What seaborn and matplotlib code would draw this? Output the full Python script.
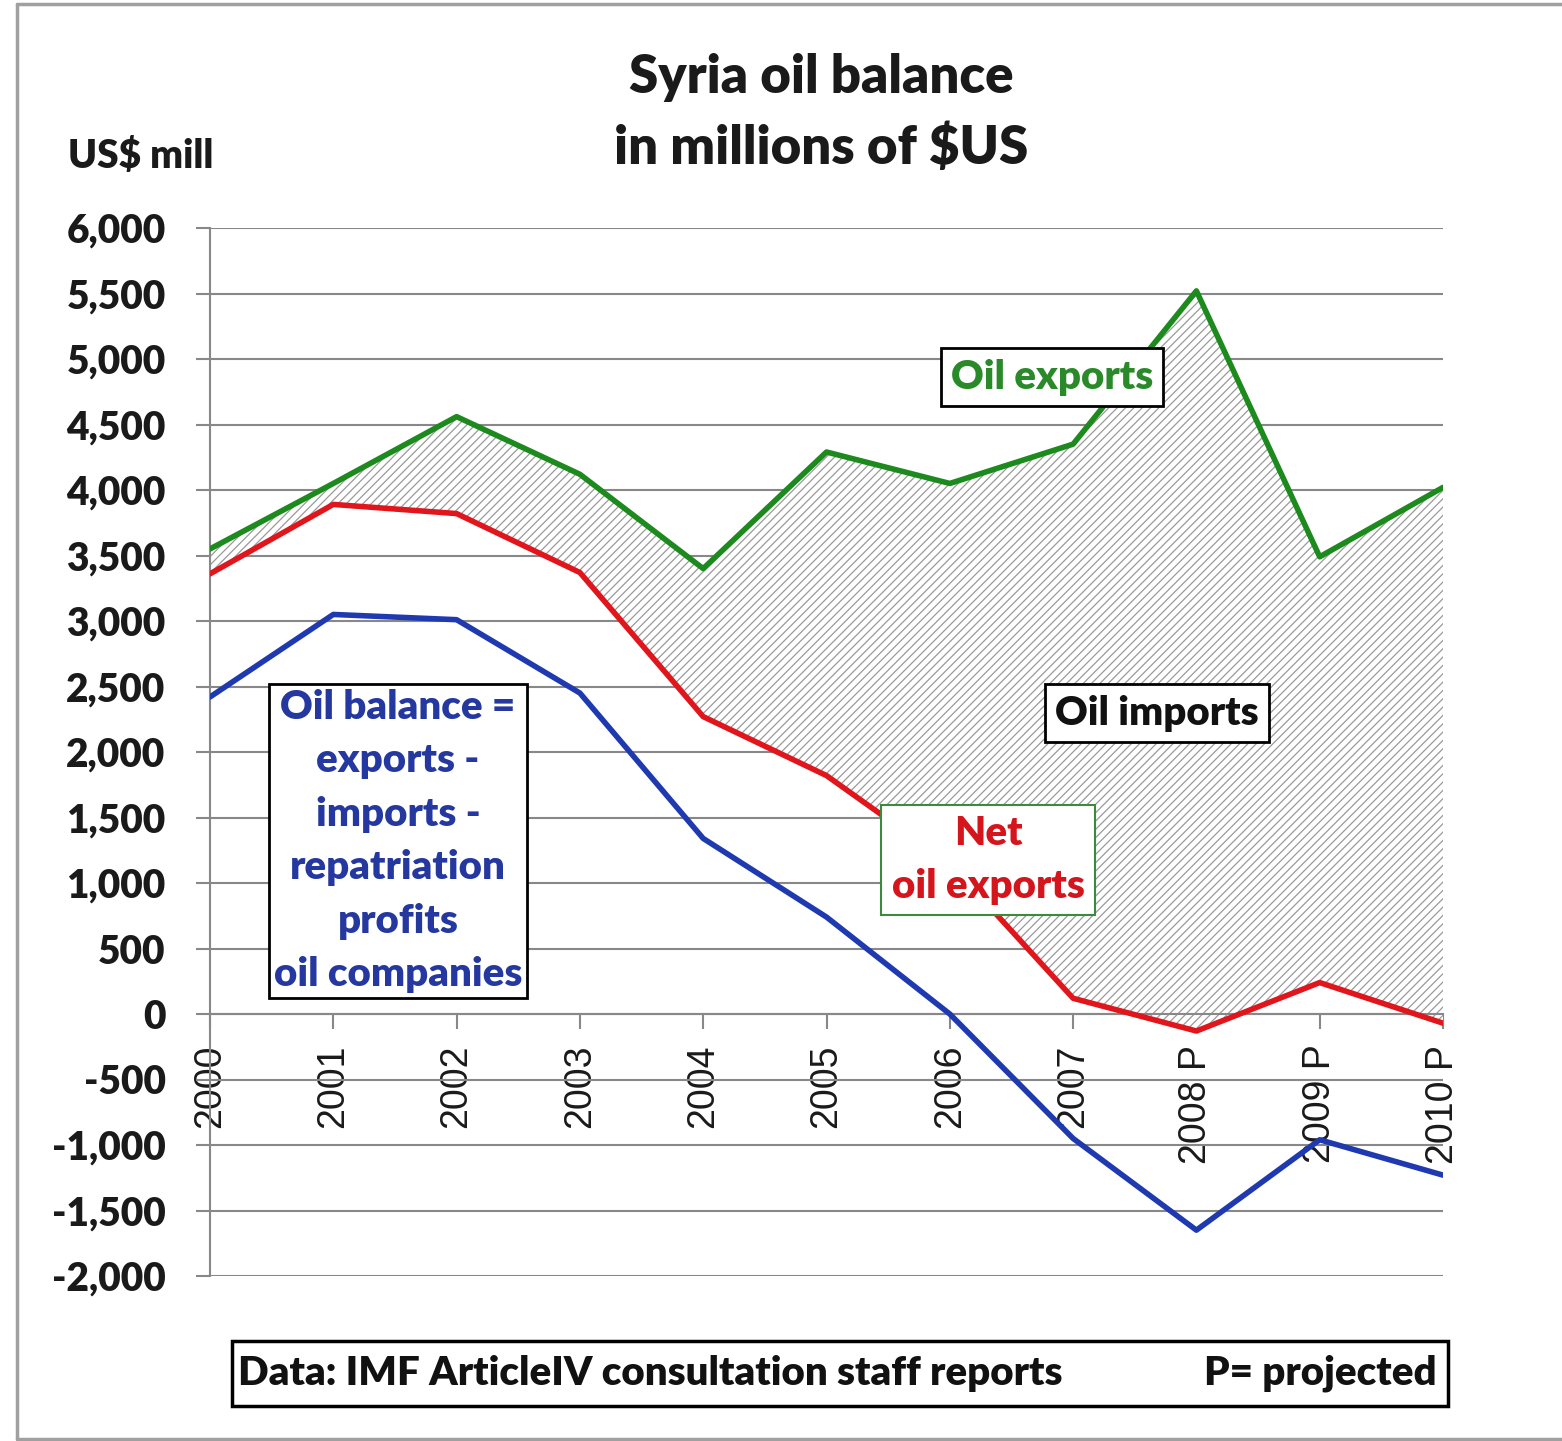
import numpy as np
import pandas as pd
import matplotlib
matplotlib.use("Agg")
import matplotlib.pyplot as plt
import seaborn as sns
from matplotlib.ticker import FuncFormatter, MultipleLocator
from matplotlib.patches import Rectangle
from matplotlib.lines import Line2D

# dados (milhoes de US$)
anos = ['2000', '2001', '2002', '2003', '2004', '2005', '2006', '2007', '2008 P', '2009 P', '2010 P']
exportacoes = [3550, 4050, 4560, 4120, 3400, 4290, 4050, 4350, 5520, 3490, 4020]
exportacoes_liq = [3360, 3890, 3820, 3370, 2270, 1820, 1150, 120, -130, 240, -70]
balanco = [2420, 3050, 3010, 2450, 1340, 740, 0, -950, -1650, -960, -1230]

W, H = 1562, 1441
PESO = 'heavy'


def fx(x):
    return x / W


def fy(y):
    return 1 - y / H


sns.set_theme(style="white")
plt.rcParams['font.family'] = ['Lato', 'DejaVu Sans']
plt.rcParams['hatch.linewidth'] = 0.9

pos = np.arange(len(anos))
df = pd.DataFrame({
    'pos': np.tile(pos, 3),
    'valor': exportacoes + exportacoes_liq + balanco,
    'serie': ['Oil exports'] * len(anos) + ['Net oil exports'] * len(anos) + ['Oil balance'] * len(anos),
})
cores = {'Oil exports': '#1c8a1c', 'Net oil exports': '#e0161c', 'Oil balance': '#1f3ab0'}

fig = plt.figure(figsize=(W / 100, H / 100), dpi=100)
ax = fig.add_axes([fx(210), fy(1276), fx(1443) - fx(210), fy(228) - fy(1276)])

# area hachurada = importacoes
ax.fill_between(pos, exportacoes, exportacoes_liq, facecolor='white', edgecolor='#9a9a9a',
                hatch='////', linewidth=0, zorder=2)

sns.lineplot(data=df, x='pos', y='valor', hue='serie', palette=cores, linewidth=4,
             legend=False, sort=False, ax=ax, zorder=3)

ax.set_xlim(0, len(anos) - 1)
ax.set_ylim(-2000, 6000)
ax.set_xlabel('')
ax.set_ylabel('')

ax.grid(axis='y', color='#888888', linewidth=1.5)
ax.set_axisbelow(True)
for s in ['top', 'right']:
    ax.spines[s].set_visible(False)
# eixo x passando pelo zero (isso reseta os ticks, entao os rotulos vem depois)
ax.spines['bottom'].set_position(('data', 0))
ax.spines['bottom'].set_color('#888888')
ax.spines['bottom'].set_linewidth(1.5)
ax.spines['left'].set_color('#888888')
ax.spines['left'].set_linewidth(1.5)

ax.yaxis.set_major_locator(MultipleLocator(500))
ax.yaxis.set_major_formatter(FuncFormatter(lambda v, p: f"{v:,.0f}"))
ax.set_xticks(pos)
ax.set_xticklabels(anos)

ax.tick_params(axis='y', which='major', left=True, length=10, width=1.5, color='#888888',
               pad=22, labelsize=28, labelcolor='#1a1a1a')
ax.tick_params(axis='x', which='major', bottom=True, length=11, width=1.5, color='#888888',
               pad=11, labelsize=27, labelrotation=90, labelcolor='#1a1a1a')
for lab in ax.get_yticklabels():
    lab.set_fontweight(PESO)
for lab in ax.get_xticklabels():
    lab.set_fontfamily('Liberation Sans')

# titulo e unidade
fig.text(fx(821), fy(113), 'Syria oil balance\nin millions of $US', ha='center', va='center',
         fontsize=38, fontweight=PESO, color='#1a1a1a', linespacing=1.55)
fig.text(fx(68), fy(157), 'US$ mill', ha='left', va='center', fontsize=28,
         fontweight=PESO, color='#1a1a1a')

# caixas de texto
caixa = dict(boxstyle='square,pad=0.25', facecolor='white', edgecolor='black', linewidth=2)
fig.text(fx(1052), fy(377), 'Oil exports', ha='center', va='center', fontsize=29,
         fontweight=PESO, color='#2a8a2a', bbox=caixa, zorder=6)
fig.text(fx(1157), fy(713), 'Oil imports', ha='center', va='center', fontsize=29,
         fontweight=PESO, color='#111111', bbox=caixa, zorder=6)
caixa_verde = dict(boxstyle='square,pad=0.25', facecolor='white', edgecolor='#3c8a3c', linewidth=1.5)
fig.text(fx(988), fy(860), 'Net\noil exports', ha='center', va='center', fontsize=29,
         fontweight=PESO, color='#d4161c', bbox=caixa_verde, linespacing=1.55, zorder=6)
fig.text(fx(398), fy(841), 'Oil balance =\nexports -\nimports -\nrepatriation\nprofits\noil companies',
         ha='center', va='center', fontsize=29, fontweight=PESO, color='#2438a0',
         bbox=dict(boxstyle='square,pad=0.12', facecolor='white', edgecolor='black', linewidth=2),
         linespacing=1.55, zorder=6)

# rodape
fig.add_artist(Rectangle((fx(232), fy(1406)), fx(1448) - fx(232), fy(1341) - fy(1406),
                         transform=fig.transFigure, facecolor='white', edgecolor='black', linewidth=2.5))
fig.text(fx(238), fy(1373), 'Data: IMF ArticleIV consultation staff reports', ha='left', va='center',
         fontsize=29, fontweight=PESO, color='#111111')
fig.text(fx(1437), fy(1373), 'P= projected', ha='right', va='center',
         fontsize=29, fontweight=PESO, color='#111111')

# moldura externa
borda = dict(color='#a0a0a0', linewidth=2.5, transform=fig.transFigure)
fig.add_artist(Line2D([fx(17), fx(17)], [fy(4), fy(1439)], **borda))
fig.add_artist(Line2D([fx(17), 1], [fy(4), fy(4)], **borda))
fig.add_artist(Line2D([fx(17), 1], [fy(1439), fy(1439)], **borda))

fig.savefig('out.png', dpi=100)
